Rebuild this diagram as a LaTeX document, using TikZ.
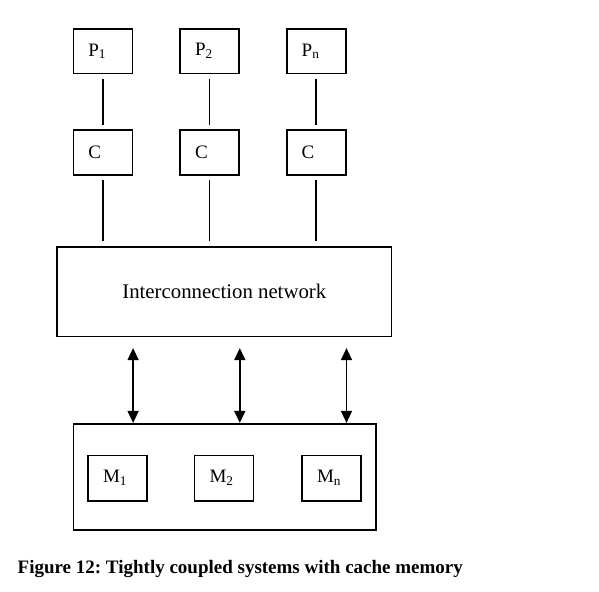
\documentclass[tikz,border=0pt]{standalone}
\usepackage{fontspec}
\setmainfont{Liberation Serif}
\usepackage{tikz}
\usetikzlibrary{arrows.meta,positioning,calc}
\frenchspacing
\tikzset{
  unit/.style={draw, line width=1.6pt, minimum width=59pt, minimum height=44.5pt, inner xsep=15pt, inner ysep=0pt, text width=29pt, align=left, font=\fontsize{19}{22}\selectfont},
  bigbox/.style={draw, line width=1.6pt, inner sep=0pt},
  wire/.style={line width=1.6pt, shorten <=4.5pt, shorten >=4.5pt},
  dbl/.style={{Triangle[length=12pt,width=11pt]}-{Triangle[length=12pt,width=11pt]}, line width=1.6pt},
}

\begin{document}
\begin{tikzpicture}[x=1pt,y=-1pt]
\useasboundingbox (0,0) rectangle (599,591);
% ---------------- processors and caches
\node[unit] (p1) at (102.8,51.2) {P\textsubscript{1}};
\node[unit] (p2) at (209.5,51.2) {P\textsubscript{2}};
\node[unit] (pn) at (316.2,51.2) {P\textsubscript{n}};
\node[unit] (c1) at (102.8,152.5) {C};
\node[unit] (c2) at (209.5,152.5) {C};
\node[unit] (cn) at (316.2,152.5) {C};
% ---------------- network
\node[bigbox, minimum width=334.7pt, minimum height=89.6pt, font=\fontsize{20.8}{24}\selectfont] (net) at (224.3,291.5) {Interconnection network};
% ---------------- memory
\node[bigbox, minimum width=302.4pt, minimum height=106pt] (mem) at (224.5,476.7) {};
\node[unit, minimum height=45.4pt] (m1) at (117.5,478) {M\textsubscript{1}};
\node[unit, minimum height=45.4pt] (m2) at (224.1,478) {M\textsubscript{2}};
\node[unit, minimum height=45.4pt] (mn) at (331.5,478) {M\textsubscript{n}};
% ---------------- connectors
\foreach \i in {1,2,n} {
  \draw[wire] (p\i) -- (c\i);
  \draw[wire] (c\i) -- (c\i |- net.north);
  \draw[dbl, shorten <=11pt] (net.south -| p\i.east) -- (mem.north -| p\i.east);
}
% ---------------- caption
\node[anchor=base west, inner sep=0pt, font=\fontsize{19}{22}\selectfont\bfseries] (cap) at (17.5,573) {Figure 12: Tightly coupled systems with cache memory};
\end{tikzpicture}
\end{document}
